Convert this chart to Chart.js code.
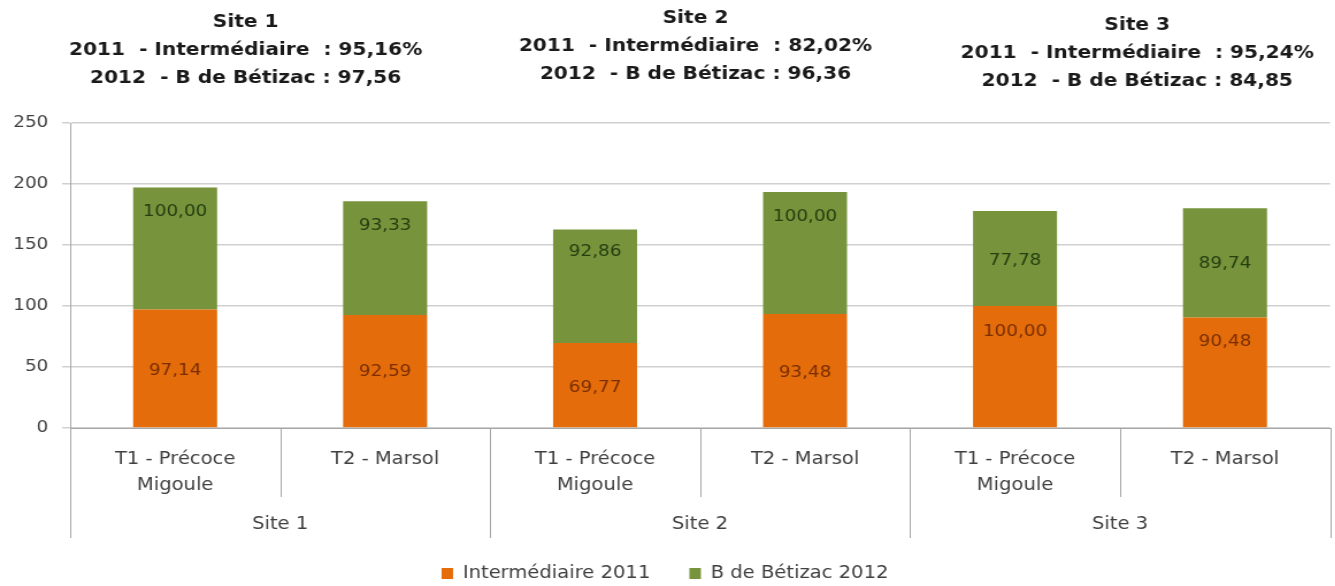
<!DOCTYPE html>
<html>
<head>
<meta charset="utf-8">
<script src="https://cdn.jsdelivr.net/npm/chart.js@4.4.1/dist/chart.umd.min.js"></script>
<style>
  html, body { margin: 0; padding: 0; background: #fff; }
  #frame { width: 1335px; height: 586px; overflow: hidden; }
  /* the source picture is stretched sideways, so the canvas is too */
  #box { width: 1161px; height: 592px; transform: scaleX(1.15); transform-origin: 0 0; }
</style>
</head>
<body>
<div id="frame"><div id="box"><canvas id="chart"></canvas></div></div>
<script>
const sites = ['Site 1', 'Site 2', 'Site 3'];
const categories = [
  ['T1 - Précoce', 'Migoule'], ['T2 - Marsol'],
  ['T1 - Précoce', 'Migoule'], ['T2 - Marsol'],
  ['T1 - Précoce', 'Migoule'], ['T2 - Marsol']
];
const intermediaire2011 = [97.14, 92.59, 69.77, 93.48, 100.00, 90.48];
const betizac2012 = [100.00, 93.33, 92.86, 100.00, 77.78, 89.74];
const siteRate2011 = [95.16, 82.02, 95.24];
const siteRate2012 = [97.56, 96.36, 84.85];
const yMin = 0, yMax = 250, yStep = 50;

const FONT = 'DejaVu Sans';
const fmt = v => v.toFixed(2).replace('.', ',');

// where each value label sits inside its segment (0 = bottom, 1 = top)
const labelAnchor = [
  [0.48, 0.49, 0.47, 0.48, 0.79, 0.78],
  [0.80, 0.78, 0.80, 0.80, 0.48, 0.49]
];
const labelColors = ['#7a2e00', '#243f10'];
const titleTop = [22, 18, 25];
const titleShift = [-30, -4, 15];

const barLabels = {
  id: 'barLabels',
  afterDatasetsDraw(chart) {
    const ctx = chart.ctx;
    ctx.save();
    ctx.font = `16px "${FONT}"`;
    ctx.textAlign = 'center';
    ctx.textBaseline = 'middle';
    chart.data.datasets.forEach((ds, d) => {
      chart.getDatasetMeta(d).data.forEach((bar, i) => {
        const y = bar.base + (bar.y - bar.base) * labelAnchor[d][i];
        ctx.fillStyle = labelColors[d];
        ctx.fillText(fmt(ds.data[i]), bar.x, y);
      });
    });
    ctx.restore();
  }
};

function edgeOf(chart, i) {
  const x = chart.scales.x, a = chart.chartArea, n = chart.data.labels.length;
  if (i === 0) return a.left;
  if (i === n) return a.right;
  return (x.getPixelForTick(i - 1) + x.getPixelForTick(i)) / 2;
}

const siteAxis = {
  id: 'siteAxis',
  afterDraw(chart) {
    const ctx = chart.ctx, a = chart.chartArea;
    const n = chart.data.labels.length, per = n / sites.length;
    ctx.save();
    ctx.strokeStyle = '#a6a6a6';
    ctx.lineWidth = 1;
    for (let i = 0; i <= n; i++) {
      const px = Math.round(edgeOf(chart, i)) + 0.5;
      const len = i % per === 0 ? 110 : 69;
      ctx.beginPath();
      ctx.moveTo(px, a.bottom);
      ctx.lineTo(px, a.bottom + len);
      ctx.stroke();
    }
    ctx.fillStyle = '#404040';
    ctx.font = `17px "${FONT}"`;
    ctx.textAlign = 'center';
    ctx.textBaseline = 'middle';
    sites.forEach((s, k) => {
      const cx = (edgeOf(chart, k * per) + edgeOf(chart, (k + 1) * per)) / 2;
      ctx.fillText(s, cx, a.bottom + 97);
    });
    ctx.restore();
  }
};

const siteTitles = {
  id: 'siteTitles',
  afterDraw(chart) {
    const ctx = chart.ctx;
    const per = chart.data.labels.length / sites.length;
    ctx.save();
    ctx.fillStyle = '#1a1a1a';
    ctx.font = `bold 17.5px "${FONT}"`;
    ctx.textAlign = 'center';
    ctx.textBaseline = 'middle';
    sites.forEach((s, k) => {
      const cx = (edgeOf(chart, k * per) + edgeOf(chart, (k + 1) * per)) / 2 + titleShift[k];
      const lines = [
        s,
        `2011  - Intermédiaire  : ${fmt(siteRate2011[k])}%`,
        `2012  - B de Bétizac : ${fmt(siteRate2012[k])}`
      ];
      lines.forEach((t, j) => ctx.fillText(t, cx, titleTop[k] + j * 28));
    });
    ctx.restore();
  }
};

new Chart(document.getElementById('chart'), {
  type: 'bar',
  data: {
    labels: categories,
    datasets: [
      { label: 'Intermédiaire 2011', data: intermediaire2011, backgroundColor: '#e46c0a',
        barPercentage: 0.4, categoryPercentage: 1 },
      { label: 'B de Bétizac 2012', data: betizac2012, backgroundColor: '#77933c',
        barPercentage: 0.4, categoryPercentage: 1 }
    ]
  },
  options: {
    responsive: true,
    maintainAspectRatio: false,
    animation: false,
    layout: { padding: { top: 123, right: 4.5, left: 0, bottom: 0 } },
    plugins: {
      legend: {
        position: 'bottom',
        labels: { boxWidth: 10, boxHeight: 11, padding: 34, color: '#404040',
                  font: { family: FONT, size: 17 } }
      },
      tooltip: { enabled: false }
    },
    scales: {
      x: {
        stacked: true,
        grid: { display: false, drawTicks: false },
        border: { display: true, color: '#a6a6a6' },
        ticks: { color: '#404040', padding: 19, maxRotation: 0, autoSkip: false,
                 font: { family: FONT, size: 17, lineHeight: 1.5 } },
        afterFit: s => { s.height = 103; }
      },
      y: {
        stacked: true,
        min: yMin,
        max: yMax,
        ticks: { stepSize: yStep, color: '#404040', padding: 12,
                 font: { family: FONT, size: 16 } },
        grid: { color: '#d0d0d0', lineWidth: 1.5, tickLength: 7 },
        border: { display: true, color: '#a6a6a6' },
        afterFit: s => { s.width = 61; }
      }
    }
  },
  plugins: [barLabels, siteAxis, siteTitles]
});
</script>
</body>
</html>
